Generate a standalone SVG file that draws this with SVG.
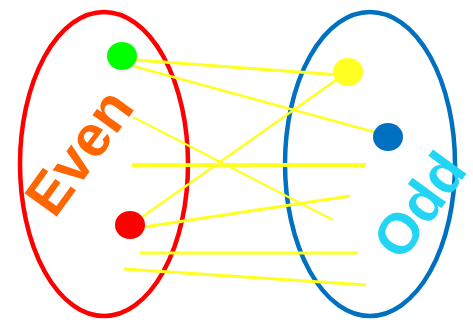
<svg xmlns="http://www.w3.org/2000/svg" width="473" height="320" viewBox="0 0 473 320">
  <style>
    .set { fill: none; stroke-width: 4.5; }
    .link { stroke: #FFFF22; fill: none; }
    .label { font-family: "Liberation Sans", Arial, sans-serif; font-weight: bold; text-anchor: middle; }
  </style>
  <rect width="473" height="320" fill="#FFFFFF"/>

  <!-- set outlines -->
  <g id="even-set">
    <ellipse class="set" cx="104" cy="164" rx="84" ry="152" stroke="#FF0000"/>
    <text class="label" font-size="58" fill="#FF6600" transform="translate(79 152) rotate(-54)" y="20">Even</text>
  </g>
  <g id="odd-set">
    <ellipse class="set" cx="370" cy="164" rx="85" ry="152" stroke="#0070C0"/>
    <text class="label" font-size="57" fill="#22D5F5" transform="translate(419 205) rotate(-54)" y="20">Odd</text>
  </g>

  <!-- connectors -->
  <g id="connectors">
    <line class="link" x1="136" y1="60" x2="340" y2="75" stroke-width="3"/>
    <line class="link" x1="133" y1="66" x2="378" y2="133" stroke-width="2.5"/>
    <line class="link" x1="133" y1="117" x2="333" y2="220" stroke-width="2"/>
    <line class="link" x1="132" y1="165" x2="366" y2="165" stroke-width="4"/>
    <line class="link" x1="142" y1="217" x2="339" y2="78" stroke-width="2.5"/>
    <line class="link" x1="144" y1="227" x2="350" y2="196" stroke-width="3"/>
    <line class="link" x1="140" y1="253" x2="358" y2="253" stroke-width="3"/>
    <line class="link" x1="124" y1="269" x2="366" y2="285" stroke-width="3"/>
  </g>

  <!-- element nodes -->
  <g id="node-green"><ellipse cx="122" cy="56" rx="15" ry="14" fill="#00FF00"/></g>
  <g id="node-yellow"><ellipse cx="348" cy="72" rx="15" ry="14" fill="#FFFF22"/></g>
  <g id="node-blue"><ellipse cx="388" cy="137" rx="15" ry="14" fill="#0070C0"/></g>
  <g id="node-red"><ellipse cx="130" cy="225" rx="15" ry="14" fill="#FF0000"/></g>
</svg>
